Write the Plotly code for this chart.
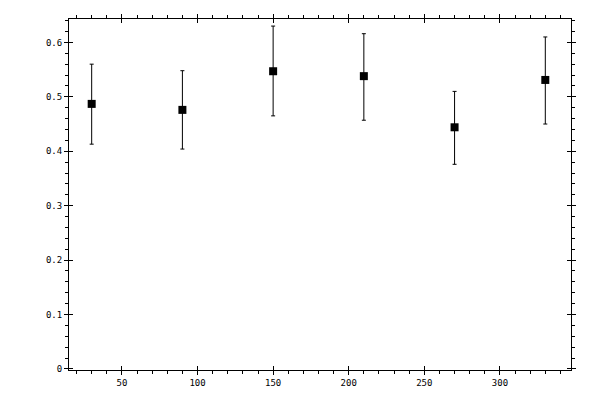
import plotly.graph_objects as go

angles = [30, 90, 150, 210, 270, 330]
values = [0.487, 0.476, 0.547, 0.538, 0.444, 0.531]
upper = [0.560, 0.548, 0.630, 0.616, 0.510, 0.610]
lower = [0.413, 0.404, 0.465, 0.457, 0.376, 0.450]

err_plus = [u - v for u, v in zip(upper, values)]
err_minus = [v - l for v, l in zip(values, lower)]

xrange_ = [15, 347]
yrange_ = [-0.002, 0.643]
font = dict(family="DejaVu Sans Mono", size=9, color="black")

fig = go.Figure()
fig.add_trace(go.Scatter(
    x=angles, y=values,
    mode="markers",
    marker=dict(symbol="square", size=8, color="black"),
    error_y=dict(type="data", symmetric=False, array=err_plus,
                 arrayminus=err_minus, color="black", thickness=1, width=2),
    showlegend=False,
))
# empty trace so the overlay axes (inner half of the major ticks) get drawn
fig.add_trace(go.Scatter(x=[], y=[], xaxis="x2", yaxis="y2", showlegend=False))

axis_common = dict(showgrid=False, zeroline=False, tickcolor="black",
                   tickwidth=1, automargin=False)

fig.update_layout(
    width=600, height=400,
    # the page body adds 8px on the left and top, so margins are shifted by that
    margin=dict(l=61, r=37, t=11, b=38),
    paper_bgcolor="white", plot_bgcolor="white",
    font=font,
    xaxis=dict(range=xrange_, dtick=50, tick0=0, ticks="outside", ticklen=4,
               showline=True, linecolor="black", linewidth=1,
               mirror="ticks", tickfont=font,
               minor=dict(dtick=10, tick0=0, ticks="outside", ticklen=3,
                          tickcolor="black", tickwidth=1),
               **axis_common),
    yaxis=dict(range=yrange_, dtick=0.1, tick0=0, ticks="outside", ticklen=4,
               showline=True, linecolor="black", linewidth=1,
               mirror="ticks", tickfont=font,
               minor=dict(dtick=0.02, tick0=0, ticks="outside", ticklen=3,
                          tickcolor="black", tickwidth=1),
               **axis_common),
    xaxis2=dict(range=xrange_, overlaying="x", anchor="y2", dtick=50, tick0=0,
                ticks="inside", ticklen=4, mirror="ticks", showline=False,
                showticklabels=False, **axis_common),
    yaxis2=dict(range=yrange_, overlaying="y", anchor="x2", dtick=0.1, tick0=0,
                ticks="inside", ticklen=4, mirror="ticks", showline=False,
                showticklabels=False, **axis_common),
)

fig.write_html("out.html")
